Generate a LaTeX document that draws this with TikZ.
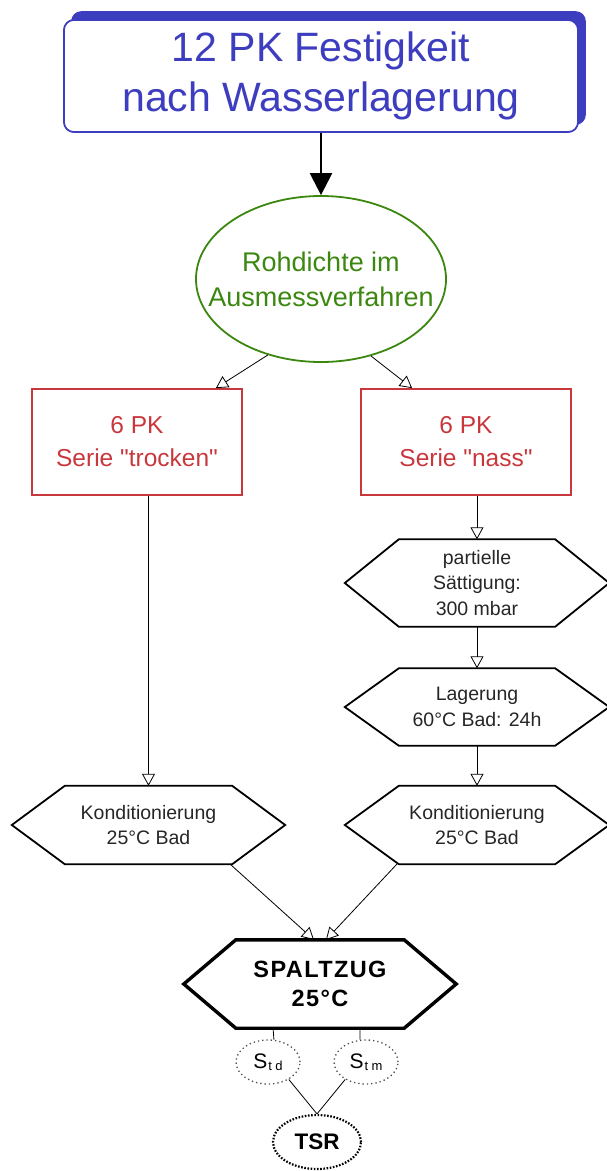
\documentclass[tikz,border=0pt]{standalone}
\usepackage{fontspec}
\setmainfont{Liberation Sans}
\newfontfamily\plainfont{Liberation Sans}
\usetikzlibrary{shapes.geometric,arrows.meta,calc}
\definecolor{topblue}{RGB}{61,61,191}
\definecolor{grn}{RGB}{60,135,15}
\definecolor{redbox}{RGB}{200,55,60}
\newcommand\hexdraw[3][line width=1.8pt]{\draw[#1, line join=miter] (#2.west) -- ($(#2.north west)+(#3,0)$) -- ($(#2.north east)+(-#3,0)$) -- (#2.east) -- ($(#2.south east)+(-#3,0)$) -- ($(#2.south west)+(#3,0)$) -- cycle;}
\tikzset{
  topbox/.style={draw=topblue, line width=1.6pt, rounded corners=10pt, fill=white, minimum width=514pt, minimum height=112pt, inner sep=0pt, align=center, text=topblue, font=\fontsize{41}{50}\selectfont},
  hexnode/.style={inner sep=0pt, align=center, font=\fontsize{19.5}{25.5}\selectfont, text=black!85},
  redn/.style={draw=redbox, line width=1.8pt, inner sep=0pt, align=center, text=redbox, minimum width=210pt, minimum height=106pt, font=\plainfont\fontsize{24.5}{33}\selectfont},
  conn/.style={line width=0.8pt, -{Triangle[open,length=12pt,width=13pt]}},
  plain/.style={line width=0.8pt},
  dotell/.style={ellipse, draw=black!70, dash pattern=on 1.3pt off 3pt, line width=1.3pt, inner sep=0pt},
}
\begin{document}
\begin{tikzpicture}[x=1pt,y=-1pt]
\useasboundingbox (0,0) rectangle (607,1171);
% top box with shadow
\node[topbox] (top) at (321,76) {12 PK Festigkeit\\nach Wasserlagerung};
\fill[topblue, rounded corners=10pt] ($(top.south west)+(8,-8)$) rectangle ($(top.north east)+(7,-8)$);
\node[topbox] (topfront) at (top.center) {12 PK Festigkeit\\nach Wasserlagerung};
% ellipse
\node[ellipse, draw=grn, line width=1.8pt, minimum width=250pt, minimum height=166pt, inner sep=0pt] (rd) at (321,279) {};
\node[inner sep=0pt, align=center, text=grn, font=\fontsize{27}{35}\selectfont] (rdtext) at (rd.center) {Rohdichte im\\Ausmessverfahren};
\draw[line width=2.4pt, -{Triangle[length=22pt,width=22pt]}] (topfront.south) -- (rd.north);
% red boxes
\node[redn] (tr) at (137,442) {6 PK\\Serie "trocken"};
\node[redn] (na) at (466,442) {6 PK\\Serie "nass"};
\draw[conn] (rd.235) -- ($(tr.north east)+(-27,0)$);
\draw[conn] (rd.303) -- ($(na.north west)+(52,0)$);
% hexagons
\node[hexnode, minimum width=264pt, minimum height=87pt] (p1) at (477,583) {partielle\\Sättigung:\\300 mbar};
\hexdraw{p1}{54}
\node[hexnode, minimum width=264pt, minimum height=77pt] (l2) at (477,707) {Lagerung\\60°C Bad: 24h};
\hexdraw{l2}{54}
\node[hexnode, minimum width=264pt, minimum height=78pt] (k2) at (477,825) {Konditionierung\\25°C Bad};
\hexdraw{k2}{54}
\node[hexnode, minimum width=273pt, minimum height=78pt] (k1) at (148.5,825) {Konditionierung\\25°C Bad};
\hexdraw{k1}{53}
\node[hexnode, text=black, minimum width=272pt, minimum height=88pt, font=\bfseries\fontsize{23.5}{29.5}\selectfont\addfontfeature{LetterSpace=6}] (sp) at (320,984) {SPALTZUG\\25°C};
\hexdraw[line width=3.4pt]{sp}{52}
% connectors
\draw[conn] (k1.north |- tr.south) -- (k1.north);
\draw[conn] (p1.north |- na.south) -- (p1.north);
\draw[conn] (p1.south) -- (l2.north);
\draw[conn] (l2.south) -- (k2.north);
\draw[conn] ($(k1.south east)+(-55,0)$) -- ($(sp.north)+(-6,0)$);
\draw[conn] ($(k2.south west)+(52,0)$) -- ($(sp.north)+(6,0)$);
% bottom ellipses
\node[dotell, minimum width=64pt, minimum height=44pt] (sd) at (268,1062) {{\fontsize{21}{21}\selectfont S}\kern1pt{\fontsize{13}{13}\selectfont\raisebox{-1.5pt}{t\kern3.5pt d}}};
\node[dotell, minimum width=64pt, minimum height=44pt] (sm) at (366,1062) {{\fontsize{21}{21}\selectfont S}\kern1pt{\fontsize{13}{13}\selectfont\raisebox{-1.5pt}{t\kern3.5pt m}}};
\node[ellipse, draw=black, dash pattern=on 1.6pt off 1.6pt, line width=2.2pt, inner sep=0pt, minimum width=88pt, minimum height=54pt, font=\bfseries\fontsize{22.5}{22.5}\selectfont] (ts) at (317,1142) {TSR};
\draw[plain] ($(sp.south)+(-47,0)$) -- (sd.75);
\draw[plain] ($(sp.south)+(40,0)$) -- (sm.105);
\draw[plain] (sd.-40) -- (ts.north);
\draw[plain] (sm.-140) -- (ts.north);
\end{tikzpicture}
\end{document}
